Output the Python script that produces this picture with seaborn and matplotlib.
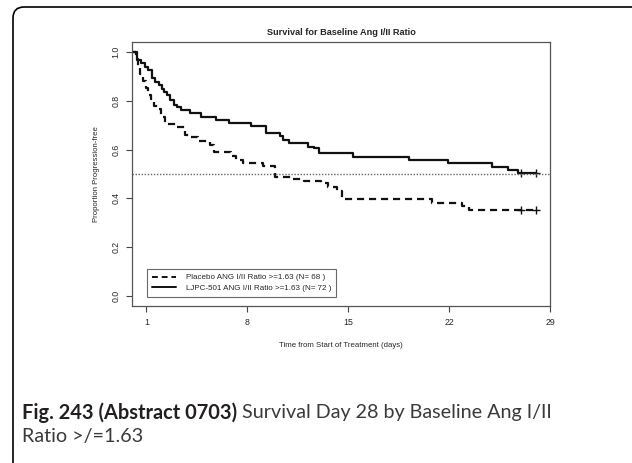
import numpy as np
import pandas as pd
import matplotlib
matplotlib.use("Agg")
import matplotlib.pyplot as plt
from matplotlib.patches import FancyBboxPatch
from matplotlib.lines import Line2D
import seaborn as sns

# Kaplan-Meier step curves (time in days, proportion after each drop)
placebo_time = [0, 0.25, 0.4, 0.55, 0.75, 0.95, 1.1, 1.3, 1.55, 1.8, 2.0, 2.3, 3.1, 3.7,
                4.1, 4.6, 5.4, 5.7, 6.9, 7.2, 7.7, 9.1, 9.9, 11.2, 11.9, 13.1, 13.6,
                14.2, 14.6, 20.8, 22.9, 23.4, 28.0]
placebo_surv = [1.0, 0.971, 0.941, 0.912, 0.882, 0.853, 0.824, 0.809, 0.779, 0.765, 0.735,
                0.706, 0.694, 0.662, 0.650, 0.637, 0.618, 0.591, 0.574, 0.557, 0.546, 0.533,
                0.489, 0.478, 0.471, 0.462, 0.446, 0.431, 0.397, 0.383, 0.368, 0.353, 0.353]
ljpc_time = [0, 0.35, 0.6, 0.9, 1.1, 1.4, 1.6, 1.9, 2.05, 2.2, 2.4, 2.6, 2.9, 3.1, 3.4,
             4.0, 4.8, 5.8, 6.75, 8.25, 9.3, 10.3, 10.5, 10.9, 12.2, 12.6, 13.0, 15.3,
             19.2, 21.9, 25.0, 26.1, 26.8, 28.0]
ljpc_surv = [1.0, 0.968, 0.954, 0.940, 0.927, 0.893, 0.879, 0.865, 0.851, 0.838, 0.824,
             0.804, 0.783, 0.776, 0.763, 0.749, 0.735, 0.721, 0.708, 0.698, 0.669, 0.655,
             0.640, 0.628, 0.612, 0.605, 0.585, 0.571, 0.557, 0.544, 0.530, 0.516, 0.503,
             0.503]
censor_time = [27.0, 28.0]
placebo_censor = [0.353, 0.353]
ljpc_censor = [0.503, 0.503]

labels = ["Placebo ANG I/II Ratio >=1.63 (N= 68 )", "LJPC-501 ANG I/II Ratio >=1.63 (N= 72 )"]
x_ticks = [1, 8, 15, 22, 29]
y_ticks = [0.0, 0.2, 0.4, 0.6, 0.8, 1.0]
caption_bold = "Fig. 243 (Abstract 0703)"
caption_rest = "Survival Day 28 by Baseline Ang I/II"
caption_line2 = "Ratio >/=1.63"

sns.set_style("white")
plt.rcParams["font.family"] = ["Liberation Sans", "DejaVu Sans"]

fig = plt.figure(figsize=(6.32, 4.63), dpi=100)
ax = fig.add_axes([0.2089, 0.339, 0.6614, 0.5703])

df_p = pd.DataFrame({"time": placebo_time, "surv": placebo_surv})
df_l = pd.DataFrame({"time": ljpc_time, "surv": ljpc_surv})
ink = "#111111"
sns.lineplot(data=df_p, x="time", y="surv", ax=ax, estimator=None, drawstyle="steps-post",
             color=ink, lw=1.6, linestyle=(0, (3.2, 2.2)))
sns.lineplot(data=df_l, x="time", y="surv", ax=ax, estimator=None, drawstyle="steps-post",
             color=ink, lw=1.6)
sns.scatterplot(x=censor_time, y=placebo_censor, ax=ax, marker="+", s=30, color=ink, linewidth=1)
sns.scatterplot(x=censor_time, y=ljpc_censor, ax=ax, marker="+", s=30, color=ink, linewidth=1)
ax.axhline(0.5, color="#666666", ls=(0, (1, 1.2)), lw=1)

ax.set_xlim(0, 29)
ax.set_ylim(-0.042, 1.042)
ax.set_xticks(x_ticks)
ax.set_xticklabels([str(t) for t in x_ticks], fontsize=6.3)
ax.set_yticks(y_ticks)
ax.set_yticklabels([f"{t:.1f}" for t in y_ticks], fontsize=6.3, rotation=90, va="center")
ax.tick_params(axis="both", direction="out", length=4, width=0.8, color="#444444",
               bottom=True, left=True, pad=4.5)
for s in ax.spines.values():
    s.set_color("#555555")
    s.set_linewidth(0.9)

ax.set_xlabel("Time from Start of Treatment (days)", fontsize=5.6, labelpad=11)
ax.set_ylabel("Proportion Progression-free", fontsize=5.6, labelpad=8)
ax.set_title("Survival for Baseline Ang I/II Ratio", fontsize=6.6, fontweight="bold", pad=5)

handles = [Line2D([], [], color=ink, lw=1.4, linestyle=(0, (3, 2))),
           Line2D([], [], color=ink, lw=1.4)]
leg = ax.legend(handles, labels, loc="lower left", bbox_to_anchor=(0.026, 0.02),
                fontsize=5.8, frameon=True, fancybox=False, handlelength=3.0,
                borderpad=0.6, labelspacing=0.35, handletextpad=1.2)
leg.get_frame().set_edgecolor("#444444")
leg.get_frame().set_linewidth(0.8)

# outer panel border (top and left edges with rounded corner)
frame = FancyBboxPatch((0.13, -1.0), 7.0, 4.56 + 1.0, boxstyle="round,pad=0,rounding_size=0.11",
                       transform=fig.dpi_scale_trans, fill=False, edgecolor="black", lw=1.2,
                       clip_on=False)
fig.add_artist(frame)

cap_font = ["Lato", "DejaVu Sans"]
t1 = fig.text(0.035, 0.108, caption_bold, fontsize=14.4, fontweight="bold",
              color="#231f20", family=cap_font, va="center")
fig.canvas.draw()
bb = t1.get_window_extent(renderer=fig.canvas.get_renderer())
x_rest = bb.x1 / fig.bbox.width + 0.008
fig.text(x_rest, 0.108, caption_rest, fontsize=14.2, color="#3a3a3a", family=cap_font,
         va="center")
fig.text(0.035, 0.058, caption_line2, fontsize=14.2, color="#3a3a3a", family=cap_font,
         va="center")

fig.savefig("out.png", dpi=100)
